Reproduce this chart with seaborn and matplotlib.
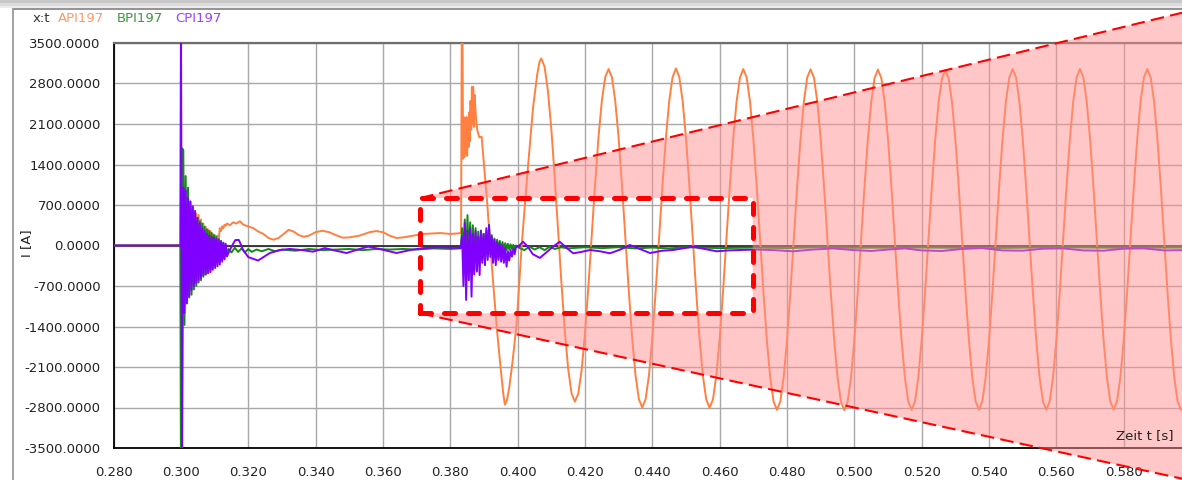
import numpy as np
import matplotlib
matplotlib.use("Agg")
import matplotlib.pyplot as plt
from matplotlib.patches import Polygon, Rectangle
from matplotlib.lines import Line2D
from matplotlib.ticker import FormatStrFormatter
import seaborn as sns

# ──────────────────────────────────────────────
# DATEN
# ──────────────────────────────────────────────

X_TICKS = [0.280, 0.300, 0.320, 0.340, 0.360, 0.380, 0.400, 0.420,
           0.440, 0.460, 0.480, 0.500, 0.520, 0.540, 0.560, 0.580]
Y_TICKS = [-3500, -2800, -2100, -1400, -700, 0, 700, 1400, 2100, 2800, 3500]

# Ruhezustand vor dem Fehler
t_pre = [0.280, 0.2998]
i_pre = [0.0, 0.0]

# 1. Einschwingen ab 0.300 s (Abtasttakt 0.35 ms)
t_burst1 = np.round(0.3000 + 0.00035 * np.arange(40), 5)
i_api_b1 = [0, 300, -200, 600, -400, 700, -350, 650, -300, 600,
            -250, 580, -200, 550, -150, 527, -100, 450, -50, 380,
            0, 325, 20, 280, 40, 250, 60, 200, 80, 180,
            100, 170, 95, 300, 250, 330, 300, 360, 340, 380]
i_bpi_b1 = [-3800, 1680, 1650, -1373, 1200, -1000, 1000, -900, 760, -850,
            650, -760, 560, -700, 475, -640, 420, -600, 380, -540,
            325, -500, 280, -460, 250, -420, 220, -380, 180, -330,
            150, -290, 110, -250, 80, -220, 40, -190, 0, -160]
i_cpi_b1 = [3800, -3800, 1000, -1165, 950, -1000, 820, -880, 760, -770,
            680, -700, 600, -650, 480, -600, 380, -560, 300, -520,
            250, -500, 200, -480, 170, -460, 150, -420, 130, -390,
            110, -360, 95, -330, 70, -280, 50, -240, 30, -190]

# Zwischenphase bis 0.383 s
t_api_mid = [0.3145, 0.3155, 0.3165, 0.3175, 0.3185, 0.3200, 0.3215, 0.3230,
             0.3245, 0.3260, 0.3275, 0.3290, 0.3305, 0.3320, 0.3335, 0.3350,
             0.3365, 0.3380, 0.3400, 0.3420, 0.3440, 0.3460, 0.3480, 0.3500,
             0.3530, 0.3560, 0.3580, 0.3600, 0.3620, 0.3640, 0.3660, 0.3690,
             0.3720, 0.3750, 0.3770, 0.3800, 0.3825, 0.3832]
i_api_mid = [350, 400, 380, 420, 360, 330, 300, 240,
             200, 130, 100, 130, 200, 270, 240, 180,
             150, 170, 230, 255, 230, 180, 135, 140,
             170, 230, 250, 230, 170, 130, 140, 170,
             200, 210, 215, 200, 210, 220]

t_bpi_mid = [0.3141, 0.3150, 0.3160, 0.3170, 0.3180, 0.3190, 0.3200, 0.3210,
             0.3225, 0.3240, 0.3260, 0.3280, 0.3300, 0.3340, 0.3380, 0.3420,
             0.3460, 0.3500, 0.3540, 0.3580, 0.3620, 0.3660, 0.3700, 0.3750,
             0.3800, 0.3831]
i_bpi_mid = [-60, -120, -40, -110, -50, -120, -60, -110,
             -70, -100, -60, -100, -70, -90, -60, -80,
             -70, -60, -80, -60, -70, -60, -70, -50,
             -60, -50]

t_cpi_mid = [0.3145, 0.3155, 0.3162, 0.3172, 0.3185, 0.3200, 0.3229, 0.3245,
             0.3264, 0.3293, 0.3323, 0.3362, 0.3392, 0.3427, 0.3460, 0.3492,
             0.3525, 0.3556, 0.3590, 0.3640, 0.3680, 0.3719, 0.3770, 0.3810,
             0.3831]
i_cpi_mid = [-80, 30, 95, 95, -80, -200, -260, -200,
             -130, -80, -60, -80, -107, -45, -90, -130,
             -70, -20, -60, -130, -80, -45, -30, -40,
             -40]

# Zuschalten Phase A ab 0.3833 s
t_api_trans = [0.3834, 0.3836, 0.3838, 0.3840, 0.3842, 0.3844, 0.3846, 0.3848,
               0.3850, 0.3852, 0.3854, 0.3856, 0.3858, 0.3860, 0.3862, 0.3864,
               0.3866, 0.3868, 0.3870, 0.3872, 0.3876, 0.3880, 0.3886, 0.3893,
               0.3900, 0.3910, 0.3920, 0.3930, 0.3940, 0.3950, 0.3957, 0.3962,
               0.3968, 0.3975, 0.3985, 0.3997, 0.4012, 0.4029, 0.4046, 0.4058,
               0.4065]
i_api_trans = [3800, 3800, 1500, 2220, 1530, 2100, 1600, 2220,
               1550, 2200, 1700, 2300, 1800, 2500, 2000, 2740,
               2100, 2740, 2050, 2600, 2220, 2000, 1870, 1880,
               1400, 700, -100, -850, -1550, -2150, -2550, -2750,
               -2680, -2450, -2000, -1340, 0, 1250, 2400, 2950,
               3180]

# Stationärer Kurzschlussstrom Phase A (Abtasttakt 1 ms ab 0.407 s)
i_api_steady = [
    3233, 3088, 2666, 2011, 1183, 267, -650, -1478, -2133, -2555, -2700,
    -2559, -2151, -1516, -713, 175, 1063, 1866, 2501, 2909,
    3050, 2907, 2491, 1845, 1029, 125, -779, -1595, -2241, -2657, -2800,
    -2657, -2241, -1595, -779, 125, 1029, 1845, 2491, 2907,
    3060, 2912, 2495, 1850, 1030, 128, -780, -1600, -2245, -2660, -2805,
    -2662, -2250, -1605, -790, 110, 1015, 1835, 2480, 2900,
    3050, 2906, 2488, 1837, 1015, 105, -805, -1627, -2278, -2696, -2840,
    -2696, -2278, -1627, -805, 105, 1015, 1837, 2488, 2906,
    3045, 2900, 2485, 1835, 1012, 100, -810, -1630, -2280, -2700, -2845,
    -2700, -2282, -1630, -808, 100, 1010, 1830, 2480, 2895,
    3040, 2895, 2480, 1830, 1010, 100, -808, -1628, -2278, -2697, -2840,
    -2695, -2276, -1625, -805, 100, 1008, 1825, 2470, 2880,
    3030, 2888, 2475, 1828, 1008, 100, -806, -1625, -2275, -2694, -2838,
    -2694, -2276, -1626, -805, 104, 1012, 1834, 2485, 2902,
    3050, 2906, 2488, 1837, 1015, 105, -805, -1627, -2278, -2696, -2840,
    -2696, -2278, -1627, -805, 105, 1015, 1837, 2488, 2906,
    3052, 2907, 2490, 1838, 1016, 106, -804, -1626, -2277, -2695, -2838,
    -2695, -2277, -1626, -804, 106, 1016, 1838, 2490, 2907,
    3050, 2906, 2488, 1837, 1015, 105, -805, -1627, -2278, -2696, -2840,
]
t_api_steady = np.round(0.407 + 0.001 * np.arange(len(i_api_steady)), 3)

# 2. Einschwingen B/C ab 0.3835 s (Abtasttakt 0.4 ms)
t_burst2 = np.round(0.3835 + 0.0004 * np.arange(41), 4)
i_bpi_b2 = [300, -200, 450, -300, 525, -250, 400, -350, 350, -420,
            300, -300, 240, -280, 260, -250, 200, -200, 250, -193,
            354, -150, 180, -150, 120, -120, 100, -100, 80, -110,
            60, -90, 40, -80, 30, -70, 20, -60, 10, -70, 0]
i_cpi_b2 = [150, -700, 390, -941, 250, -600, 300, -884, 200, -500,
            250, -450, 150, -510, 250, -300, 200, -340, 300, -250,
            354, -200, 150, -300, 100, -340, 60, -250, 30, -280,
            0, -300, -40, -366, -100, -260, -80, -193, -60, -150, -30]

t_bpi_tail = [0.4005, 0.4020, 0.4035, 0.4050, 0.4065, 0.4080, 0.4095, 0.4110,
              0.4130, 0.4150, 0.4200, 0.4250, 0.4300, 0.4350, 0.4400, 0.4450,
              0.4500, 0.4600, 0.4700, 0.4800, 0.4900, 0.5000, 0.5200, 0.5400,
              0.5600, 0.5800, 0.5975]
i_bpi_tail = [-40, -80, -20, -70, -30, -80, -20, -60,
              -30, -50, -30, -45, -30, -50, -35, -50,
              -30, -45, -35, -45, -30, -40, -35, -45,
              -30, -40, -35]

t_cpi_tail = [0.4005, 0.4016, 0.4030, 0.4045, 0.4066, 0.4085, 0.4105, 0.4125,
              0.4145, 0.4165, 0.4190, 0.4215, 0.4245, 0.4274, 0.4305, 0.4333,
              0.4363, 0.4393, 0.4430, 0.4462, 0.4490, 0.4521, 0.4555, 0.4591,
              0.4625, 0.4660, 0.4710, 0.4760, 0.4818, 0.4877, 0.4937, 0.5000,
              0.5050, 0.5100, 0.5150, 0.5200, 0.5260, 0.5320, 0.5380, 0.5440,
              0.5500, 0.5560, 0.5620, 0.5680, 0.5740, 0.5800, 0.5860, 0.5920,
              0.5975]
i_cpi_tail = [0, 65, -20, -150, -215, -120, -20, 65,
              -40, -135, -110, -78, -100, -135, -70, 9,
              -60, -130, -90, -78, -50, -20, -60, -100,
              -85, -78, -70, -80, -100, -70, -50, -80,
              -95, -70, -50, -85, -95, -60, -45, -85,
              -90, -55, -50, -85, -90, -55, -50, -85,
              -80]

t_api = np.concatenate([t_pre, t_burst1, t_api_mid, t_api_trans, t_api_steady])
i_api = np.concatenate([i_pre, i_api_b1, i_api_mid, i_api_trans, i_api_steady])
t_bpi = np.concatenate([t_pre, t_burst1, t_bpi_mid, t_burst2, t_bpi_tail])
i_bpi = np.concatenate([i_pre, i_bpi_b1, i_bpi_mid, i_bpi_b2, i_bpi_tail])
t_cpi = np.concatenate([t_pre, t_burst1, t_cpi_mid, t_burst2, t_cpi_tail])
i_cpi = np.concatenate([i_pre, i_cpi_b1, i_cpi_mid, i_cpi_b2, i_cpi_tail])

# Markierung (Zoom-Rahmen und Trichter)
BOX_T = (0.3710, 0.4698)
BOX_I = (-1172, 820)
FUNNEL_END_T = 0.5973
FUNNEL_END_I = (-4030, 4023)

# ──────────────────────────────────────────────
# STIL
# ──────────────────────────────────────────────

ORANGE = "#FF8040"
GREEN = "#138A13"
PURPLE = "#8000FF"
W, H = 1182, 480

sns.set_theme(style="white")
plt.rcParams.update({
    "font.family": ["DejaVu Sans"],
    "font.size": 9.5,
    "axes.axisbelow": True,
})

fig = plt.figure(figsize=(W / 100, H / 100), dpi=100)
fig.patch.set_facecolor("white")

# Fensterrahmen / Schatten oben
for y0, y1, col in [(0, 3, "#c8c8c8"), (3, 6, "#dcdcdc"), (6, 8, "#ededed")]:
    fig.add_artist(Rectangle((0, 1 - y1 / H), 1, (y1 - y0) / H,
                             transform=fig.transFigure, color=col, lw=0))
fig.add_artist(Line2D([13 / W, 1], [1 - 8.5 / H, 1 - 8.5 / H],
                      transform=fig.transFigure, color="#8a8a8a", lw=1.3))
fig.add_artist(Line2D([13 / W, 13 / W], [0, 1 - 8.5 / H],
                      transform=fig.transFigure, color="#9a9a9a", lw=1.3))

ax = fig.add_axes([113.6 / W, 32 / H, (W - 113.6) / W, 405 / H])

for t, i, c in [(t_api, i_api, ORANGE), (t_bpi, i_bpi, GREEN), (t_cpi, i_cpi, PURPLE)]:
    sns.lineplot(x=t, y=i, color=c, lw=1.4, estimator=None, sort=False,
                 legend=False, ax=ax, zorder=3)

ax.axhline(0, color="#202020", lw=1.2, zorder=1)

ax.set_xlim(0.280, FUNNEL_END_T)
ax.set_ylim(-3500, 3500)
ax.set_xticks(X_TICKS)
ax.set_yticks(Y_TICKS)
ax.xaxis.set_major_formatter(FormatStrFormatter("%.3f"))
ax.yaxis.set_major_formatter(FormatStrFormatter("%.4f"))
ax.grid(True, color="#a8a8a8", lw=1.0)
ax.tick_params(direction="inout", length=9.5, width=1.5, color="black",
               labelsize=9.5, labelcolor="#222222")
ax.tick_params(axis="x", pad=8.5)
ax.tick_params(axis="y", pad=4.6)

for side in ["left", "bottom"]:
    ax.spines[side].set_color("black")
    ax.spines[side].set_linewidth(1.3)
ax.spines["top"].set_color("#6e6e6e")
ax.spines["top"].set_linewidth(1.6)
ax.spines["right"].set_visible(False)

ax.set_xlabel("")
ax.set_ylabel("I [A]", fontsize=9.5, color="#222222")
ax.yaxis.set_label_coords(-0.075, 0.505)

# Trichter (halbtransparent, über den Kurven)
t0, t1 = BOX_T
b0, b1 = BOX_I
lo_end, hi_end = FUNNEL_END_I
funnel = Polygon([(t0, b1), (FUNNEL_END_T, hi_end), (FUNNEL_END_T, lo_end),
                  (t0, b0), (t1, b0), (t1, b1)], closed=True,
                 facecolor="#FF9191", alpha=0.5, edgecolor="none",
                 clip_on=False, zorder=5)
ax.add_patch(funnel)
for end in (hi_end, lo_end):
    start = b1 if end > 0 else b0
    ax.plot([t0, FUNNEL_END_T], [start, end], color="red", lw=1.5,
            ls=(0, (6.5, 3)), clip_on=False, zorder=6)
ax.add_patch(Rectangle((t0, b0), t1 - t0, b1 - b0, fill=False,
                       edgecolor="red", lw=3.6, ls=(0, (2.2, 2.6)),
                       capstyle="round", joinstyle="round",
                       clip_on=False, zorder=7))

ax.text(0.9916, 0.032, "Zeit t [s]", transform=ax.transAxes, ha="right",
        va="center", fontsize=9.5, color="#222222", zorder=10)

# Kopfzeile mit Signalnamen
for x, txt, col in [(33, "x:t", "#333333"), (58, "API197", "#FF9966"),
                    (117, "BPI197", "#3A9A3A"), (175, "CPI197", "#9A40FF")]:
    fig.text(x / W, 1 - 19 / H, txt, ha="left", va="center",
             fontsize=9.5, color=col)

fig.savefig("out.png", dpi=100)
